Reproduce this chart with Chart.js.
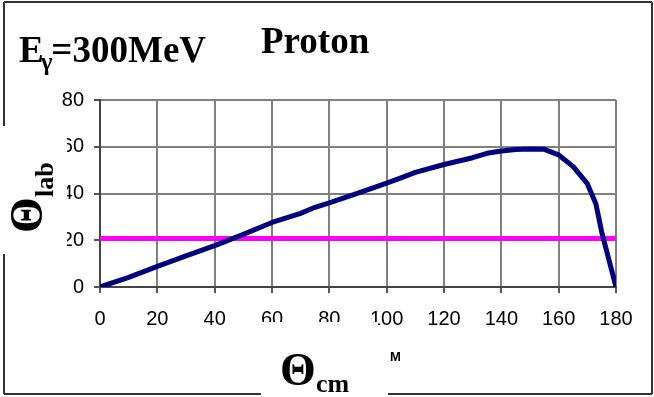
<!DOCTYPE html>
<html>
<head>
<meta charset="utf-8">
<script src="https://cdn.jsdelivr.net/npm/chart.js@4.4.1/dist/chart.umd.min.js"></script>
<style>
  html, body { margin: 0; padding: 0; background: #fff; }
  #wrap { width: 654px; height: 397px; }
</style>
</head>
<body>
<div id="wrap"><canvas id="kin" width="654" height="397"></canvas></div>
<script>
// proton lab angle vs cm angle, E_gamma = 300 MeV
const thetaCm  = [0, 10, 20, 30, 40, 50, 60, 70, 75, 80, 90, 100, 105, 110, 120, 130, 135, 140, 145, 150, 155, 160, 165, 170, 173, 175, 180];
const thetaLab = [0, 4.1, 8.8, 13.3, 17.7, 22.5, 27.6, 31.5, 34.1, 36, 40.2, 44.4, 46.7, 49, 52.4, 55.3, 57.2, 58.2, 58.8, 59, 58.9, 56.5, 51.6, 44.2, 35.5, 23.6, 0];

// horizontal cut line
const cutX = [0, 180];
const cutY = [20.8, 20.8];

const xTicks = [0, 20, 40, 60, 80, 100, 120, 140, 160, 180];
const yTicks = [0, 20, 40, 60, 80];

const toPoints = (xs, ys) => xs.map((x, i) => ({ x: x, y: ys[i] }));

const serif = '"Liberation Serif", "Times New Roman", serif';

// frame, white label boxes and the texts
const decor = {
    id: 'decor',
    beforeDraw(chart) {
        const ctx = chart.ctx;
        ctx.save();
        ctx.fillStyle = '#fff';
        ctx.fillRect(0, 0, chart.width, chart.height);
        ctx.strokeStyle = '#333';
        ctx.lineWidth = 2;
        ctx.beginPath();
        ctx.moveTo(4, 2); ctx.lineTo(652, 2);
        ctx.moveTo(652, 2); ctx.lineTo(652, 394);
        ctx.moveTo(4, 394); ctx.lineTo(261, 394);
        ctx.moveTo(388, 394); ctx.lineTo(652, 394);
        ctx.moveTo(4, 2); ctx.lineTo(4, 126);
        ctx.moveTo(4, 254); ctx.lineTo(4, 394);
        ctx.stroke();
        ctx.restore();
    },
    afterDraw(chart) {
        const ctx = chart.ctx;
        ctx.save();
        // boxes of the axis titles sit on top of some tick labels
        ctx.fillStyle = '#fff';
        ctx.fillRect(0, 126, 67, 128);
        ctx.fillRect(261, 322, 117, 75);

        ctx.fillStyle = '#000';
        ctx.textBaseline = 'alphabetic';
        ctx.textAlign = 'left';

        // title
        ctx.font = 'bold 37px ' + serif;
        ctx.fillText('Proton', 261, 53);

        // beam energy
        ctx.fillText('E', 19, 62);
        let x = 19 + ctx.measureText('E').width;
        ctx.font = 'bold 25px ' + serif;
        ctx.fillText('γ', x - 3, 70);
        x += ctx.measureText('γ').width - 4;
        ctx.font = 'bold 37px ' + serif;
        ctx.fillText('=300MeV', x, 62);

        // x axis title
        ctx.font = 'bold 46px ' + serif;
        ctx.fillText('Θ', 280, 385);
        ctx.font = 'bold 26px ' + serif;
        ctx.fillText('cm', 316, 392);

        ctx.font = 'bold 13px "Liberation Sans", Arial, sans-serif';
        ctx.fillText('M', 390, 361);

        // y axis title
        ctx.translate(42, 233);
        ctx.rotate(-Math.PI / 2);
        ctx.font = 'bold 46px ' + serif;
        ctx.fillText('Θ', 0, 0);
        ctx.font = 'bold 26px ' + serif;
        ctx.fillText('lab', 36, 11);
        ctx.restore();
    }
};

new Chart(document.getElementById('kin'), {
    type: 'scatter',
    data: {
        datasets: [
            {
                data: toPoints(cutX, cutY),
                showLine: true,
                borderColor: '#ff00ff',
                borderWidth: 5,
                pointRadius: 0,
                order: 2
            },
            {
                data: toPoints(thetaCm, thetaLab),
                showLine: true,
                borderColor: '#000080',
                borderWidth: 5,
                borderJoinStyle: 'round',
                borderCapStyle: 'round',
                pointRadius: 0,
                order: 1
            }
        ]
    },
    options: {
        responsive: false,
        animation: false,
        events: [],
        layout: { padding: { left: 0, top: 100, right: 38, bottom: 0 } },
        plugins: {
            legend: { display: false },
            tooltip: { enabled: false }
        },
        scales: {
            x: {
                type: 'linear',
                min: 0,
                max: 180,
                afterFit: s => { s.height = 110; },
                afterBuildTicks: s => { s.ticks = xTicks.map(v => ({ value: v })); },
                grid: { color: '#808080', lineWidth: 2, tickLength: 6, tickColor: '#555' },
                border: { color: '#444', width: 2 },
                ticks: {
                    color: '#000',
                    font: { family: '"Liberation Sans", Arial, sans-serif', size: 20 },
                    padding: 14,
                    maxRotation: 0,
                    autoSkip: false
                }
            },
            y: {
                type: 'linear',
                min: 0,
                max: 80,
                afterFit: s => { s.width = 100; },
                afterBuildTicks: s => { s.ticks = yTicks.map(v => ({ value: v })); },
                grid: { color: '#808080', lineWidth: 2, tickLength: 6, tickColor: '#555' },
                border: { color: '#444', width: 2 },
                ticks: {
                    color: '#000',
                    font: { family: '"Liberation Sans", Arial, sans-serif', size: 20 },
                    padding: 10,
                    autoSkip: false
                }
            }
        }
    },
    plugins: [decor]
});
</script>
</body>
</html>
